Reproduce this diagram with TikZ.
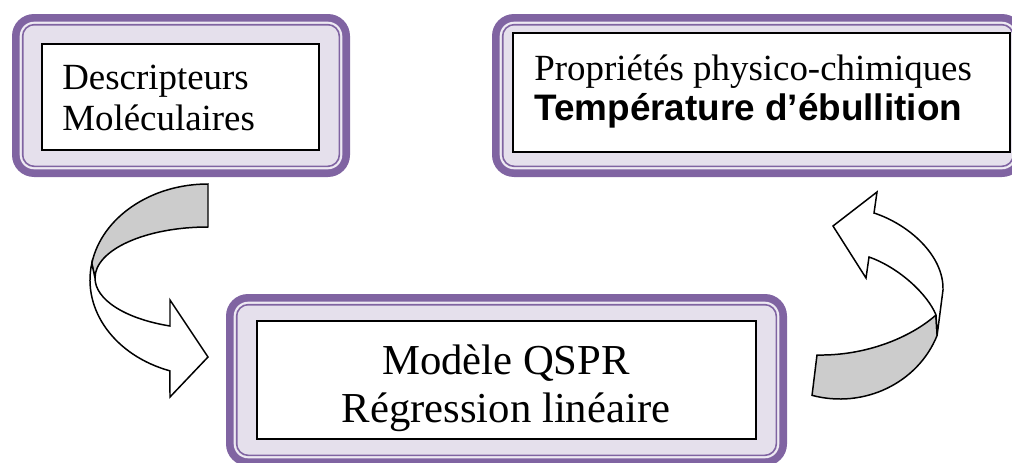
\documentclass[tikz,border=0pt]{standalone}
\usepackage{fontspec}
\setmainfont{Liberation Serif}
\newfontfamily\arialfont{Liberation Sans}
\definecolor{fpurple}{HTML}{8064A2}
\definecolor{flav}{HTML}{E5E0EC}
\definecolor{fband}{HTML}{EEEAF3}
\definecolor{agray}{HTML}{CCCCCC}
\tikzset{
  wbox/.style={draw=black, fill=white, line width=0.8pt, inner sep=0pt},
  txtA/.style={inner sep=0pt, font=\fontsize{21}{25}\selectfont},
  txtB/.style={inner sep=0pt, font=\arialfont\bfseries\fontsize{21}{25}\selectfont},
  txtC/.style={inner sep=0pt, font=\fontsize{24.3}{29}\selectfont},
  ribbon/.style={draw=black, line width=0.85pt, line join=miter},
}
\newcommand\qframe[4]{%
  \fill[fpurple, rounded corners=0.44cm] (#1,#2) rectangle (#3,#4);
  \fill[fband, rounded corners=0.29cm] (#1+7.7,#2+7.7) rectangle (#3-7.7,#4-7.7);
  \fill[fpurple, rounded corners=0.25cm] (#1+9.8,#2+9.8) rectangle (#3-9.8,#4-9.8);
  \fill[flav, rounded corners=0.22cm] (#1+11.5,#2+11.5) rectangle (#3-11.5,#4-11.5);
}
\begin{document}
\begin{tikzpicture}[x=0.02cm,y=-0.02cm]
\useasboundingbox (0,0) rectangle (1012,463);
\clip (0,0) rectangle (1012,463);
% frames
\qframe{12}{14}{350}{177}
\qframe{492}{14}{1024}{177}
\qframe{226}{294}{787}{466}
% inner boxes
\node[wbox, minimum width=5.54cm, minimum height=2.12cm] (b1) at (180.5,97) {};
\node[wbox, minimum width=9.94cm, minimum height=2.38cm] (b2) at (761.5,92.5) {};
\node[wbox, minimum width=9.98cm, minimum height=2.36cm] (b3) at (506.5,380) {};
% texts
\node[txtA, anchor=base west] (d1) at (62,90) {Descripteurs};
\node[txtA, anchor=base west] (d2) at (62,130) {Moléculaires};
\node[txtA, anchor=base west] (p1) at (534,80) {Propriétés physico-chimiques};
\node[txtB, anchor=base west] (p2) at (534,120) {Température d’ébullition};
\node[txtC, anchor=base] (m1) at (506,374) {Modèle QSPR};
\node[txtC, anchor=base] (m2) at (506,422) {Régression linéaire};
% left curved arrow
\filldraw[ribbon, fill=agray] (208,184) arc[start angle=270, end angle=190, x radius=118, y radius=96]
  -- (95,278) arc[start angle=180, end angle=270, x radius=113, y radius=51] -- cycle;
\filldraw[ribbon, fill=white] ([shift={(208,280)}]190:118 and 96)
  arc[start angle=190, end angle=108.8, x radius=118, y radius=96]
  -- (170,397) -- (208,357) -- (170,300) -- (170,326)
  arc[start angle=109.65, end angle=180, x radius=113, y radius=51] -- cycle;
% right curved arrow
\coordinate (rc) at ([shift={(840,300)}]21:104 and 99);
\filldraw[ribbon, fill=agray] (817,355) .. controls (865,356) and (910,338) .. (936,315)
  -- (rc) arc[start angle=21, end angle=105.6, x radius=104, y radius=99] -- cycle;
\filldraw[ribbon, fill=white] (rc) -- (943,290) .. controls (944,255) and (908,224) .. (874,213)
  -- (877,192) -- (833,226) -- (866,278) -- (869,257)
  .. controls (900,268) and (928,295) .. (936,315) -- cycle;
\end{tikzpicture}
\end{document}
